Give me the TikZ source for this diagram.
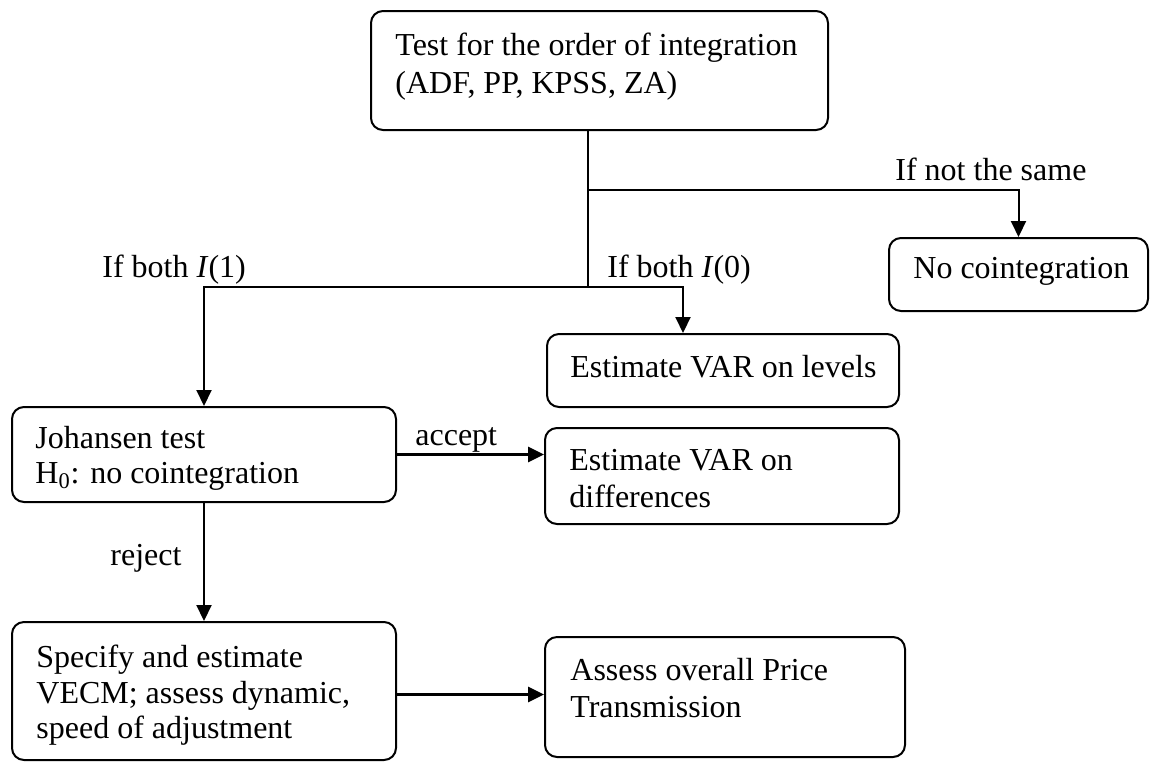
\documentclass[tikz,border=0pt]{standalone}
\usepackage{fontspec}
\setmainfont{Liberation Serif}
\usetikzlibrary{arrows.meta,calc}
\begin{document}
\begin{tikzpicture}[x=0.5pt,y=-0.5pt,
  box/.style={draw, line width=1pt, rounded corners=6pt, inner sep=0pt},
  txt/.style={anchor=base west, inner sep=0pt, font=\fontsize{16}{19}\selectfont},
  conn/.style={line width=1pt},
  arr/.style={line width=1pt, -{Triangle[length=8pt,width=7.5pt]}},
  harr/.style={line width=1.4pt, -{Triangle[length=8pt,width=7.5pt]}}]
\fill[white] (0,0) rectangle (1150,762);
\useasboundingbox (0,0) rectangle (1150,762);

% boxes
\node[box, minimum width=228.5pt, minimum height=59.5pt] (top) at (599.5,70.5) {};
\node[box, minimum width=129.5pt, minimum height=36.5pt] (nocoint) at (1018.5,274.5) {};
\node[box, minimum width=176pt, minimum height=36.5pt] (levels) at (723,370.5) {};
\node[box, minimum width=192pt, minimum height=47.5pt] (johansen) at (204,454.5) {};
\node[box, minimum width=177pt, minimum height=48pt] (diff) at (722,476) {};
\node[box, minimum width=192pt, minimum height=69pt] (specify) at (204,691) {};
\node[box, minimum width=180pt, minimum height=60pt] (assess) at (725,697) {};

% box texts
\node[txt] (top1) at (395,55) {Test for the order of integration};
\node[txt] (top2) at (395,93) {(ADF, PP, KPSS, ZA)};
\node[txt] (nc1) at (913,278) {No cointegration};
\node[txt] (lv1) at (570,377) {Estimate VAR on levels};
\node[txt] (jo1) at (35,448) {Johansen test};
\node[txt] (jo2) at (35,483) {H\textsubscript{0}: no cointegration};
\node[txt] (df1) at (569,470) {Estimate VAR on};
\node[txt] (df2) at (569,507) {differences};
\node[txt] (sp1) at (36,667) {Specify and estimate};
\node[txt] (sp2) at (36,703) {VECM; assess dynamic,};
\node[txt] (sp3) at (36,738) {speed of adjustment};
\node[txt] (as1) at (570,680) {Assess overall Price};
\node[txt] (as2) at (570,717) {Transmission};

% junctions
\coordinate (j1) at (588,190);
\coordinate (j2) at (588,287);
\coordinate (j3) at (683,287);
\coordinate (se) at ($(specify.east)+(0,3.5)$);

% connectors
\draw[conn] (top.south -| j1) -- (j2);
\draw[arr] (j1) -| (nocoint.north);
\draw[arr] (j2) -| (johansen.north);
\draw[arr] (j2) -- (j3) -- (j3 |- levels.north);
\draw[harr] (johansen.east) -- (johansen.east -| diff.west);
\draw[arr] (johansen.south) -- (specify.north);
\draw[harr] (se) -- (se -| assess.west);

% labels
\node[txt] (lns) at (895,180) {If not the same};
\node[txt] (li1) at (102,277) {If both \textit{I}(1)};
\node[txt] (li0) at (607,277) {If both \textit{I}(0)};
\node[txt] (lac) at (415,445) {accept};
\node[txt] (lre) at (110,565) {reject};
\end{tikzpicture}
\end{document}
